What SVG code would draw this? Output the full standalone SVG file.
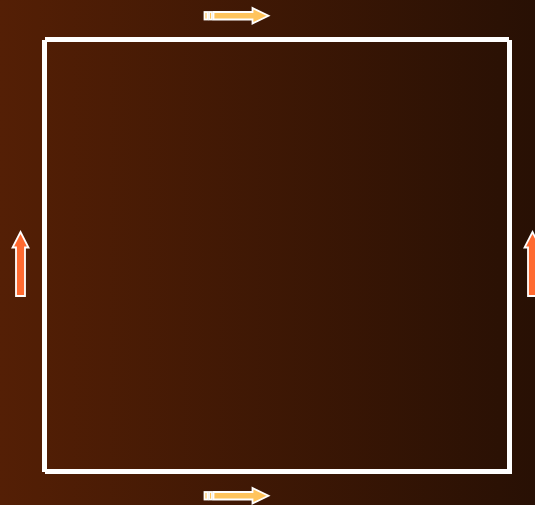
<svg xmlns="http://www.w3.org/2000/svg" width="535" height="505" viewBox="0 0 535 505">
<defs>
<linearGradient id="bg" x1="0" y1="0" x2="1" y2="0">
<stop offset="0" stop-color="#541f05"/>
<stop offset="1" stop-color="#281004"/>
</linearGradient>
<g id="harrow">
<rect x="204.5" y="12" width="3" height="7.5" fill="#ffc45c" stroke="#ffffff" stroke-width="1.8"/>
<rect x="209" y="12" width="3" height="7.5" fill="#ffc45c" stroke="#ffffff" stroke-width="1.8"/>
<path d="M213.5 12 L252.5 12 L252.5 8 L268.5 15.75 L252.5 23.5 L252.5 19.5 L213.5 19.5 Z" fill="#ffc45c" stroke="#ffffff" stroke-width="1.8" stroke-linejoin="miter"/>
</g>
<path id="varrow" d="M0 0 L8 15.5 L4.5 15.5 L4.5 64 L-4.5 64 L-4.5 15.5 L-8 15.5 Z" fill="#ff6a30" stroke="#ffffff" stroke-width="1.8"/>
</defs>
<style>.frame{stroke:#ffffff;stroke-width:5;fill:none}</style>
<rect width="535" height="505" fill="url(#bg)"/>
<g id="frame">
<line class="frame" x1="45" y1="39.5" x2="509" y2="39.5"/>
<line class="frame" x1="44.5" y1="40" x2="44.5" y2="472"/>
<line class="frame" x1="509.5" y1="40" x2="509.5" y2="474"/>
<line class="frame" x1="45" y1="471.5" x2="509" y2="471.5"/>
</g>
<g id="connectors">
<use href="#harrow"/>
<use href="#harrow" y="480"/>
<use href="#varrow" x="20.5" y="232"/>
<use href="#varrow" x="532.5" y="232"/>
</g>
</svg>
